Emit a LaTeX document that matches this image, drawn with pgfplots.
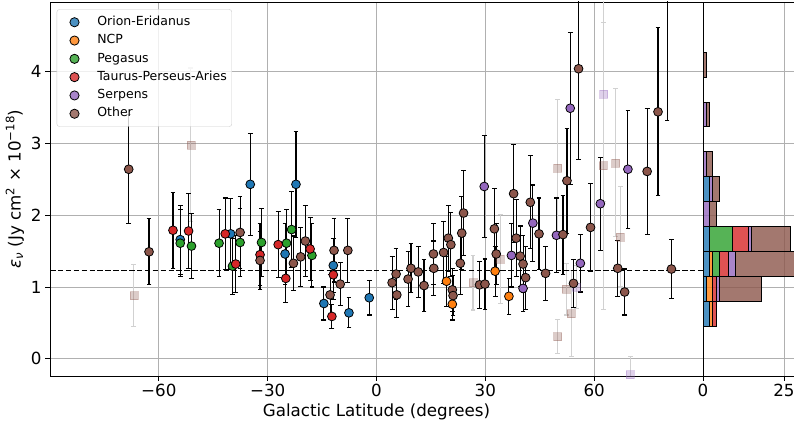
\documentclass[border=0pt]{standalone}
\usepackage{fontspec}
\setmainfont{DejaVu Sans}
\usepackage{pgfplots}
\usepackage{pgfplotstable}
\pgfplotsset{compat=1.18}
\definecolor{cblue}{RGB}{31,119,180}
\definecolor{corange}{RGB}{255,127,14}
\definecolor{cgreen}{RGB}{44,160,44}
\definecolor{cred}{RGB}{214,39,40}
\definecolor{cpurple}{RGB}{148,103,189}
\definecolor{cbrown}{RGB}{140,86,75}
\definecolor{gridgray}{RGB}{176,176,176}
\definecolor{leggray}{RGB}{204,204,204}

\pgfplotstableread{
x y e
-54.1 1.66 0.48
-40.2 1.74 0.49
-34.8 2.43 0.71
-25.2 1.46 0.42
-22.2 2.43 0.74
-14.5 0.77 0.23
-11.9 1.30 0.38
-7.6 0.64 0.21
-2.0 0.85 0.24
}\blue
\pgfplotstableread{
x y e
19.3 1.08 0.35
20.9 0.76 0.22
32.7 1.22 0.35
36.5 0.87 0.25
}\orange
\pgfplotstableread{
x y e
-54.1 1.61 0.47
-51.0 1.57 0.45
-43.4 1.61 0.47
-39.7 1.29 0.39
-37.6 1.62 0.47
-31.7 1.62 0.47
-24.8 1.61 0.47
-23.4 1.80 0.53
-17.8 1.44 0.44
}\green
\pgfplotstableread{
x y e
-56.1 1.79 0.53
-51.8 1.78 0.52
-41.7 1.74 0.50
-38.8 1.32 0.40
-32.1 1.45 0.43
-27.1 1.59 0.46
-25.0 1.12 0.34
-18.3 1.53 0.44
-12.3 0.59 0.17
-11.9 1.17 0.35
}\red
\pgfplotstableread{
x y e
29.7 2.40 0.71
37.2 1.44 0.44
40.4 0.98 0.32
43.1 1.89 0.53
49.6 1.72 0.52
53.4 3.49 1.06
56.2 1.33 0.40
61.7 2.16 0.65
69.3 2.64 0.82
}\purple
\pgfplotstableread{
x y e
-68.3 2.64 0.76
-62.7 1.49 0.46
-37.6 1.76 0.50
-32.1 1.37 0.40
-22.9 1.33 0.38
-20.9 1.42 0.41
-19.6 1.64 0.50
-12.8 0.89 0.28
-11.7 1.51 0.44
-10.0 1.04 0.30
-7.9 1.51 0.45
4.3 1.06 0.37
5.4 1.18 0.36
5.6 0.89 0.31
8.7 1.11 0.38
9.5 1.26 0.34
11.5 1.21 0.36
13.1 1.02 0.36
15.7 1.46 0.43
15.8 1.26 0.38
18.5 1.48 0.43
19.8 1.68 0.46
20.5 1.59 0.45
20.9 0.96 0.30
21.1 0.88 0.28
23.1 1.33 0.44
23.5 1.75 0.51
24.0 2.03 0.59
28.4 1.03 0.33
29.9 1.04 0.35
32.5 1.81 0.56
33.0 1.46 0.42
37.8 2.30 0.68
38.5 1.68 0.54
39.6 1.43 0.42
40.4 1.32 0.40
41.1 1.13 0.44
42.4 2.18 0.65
44.8 1.74 0.50
46.6 1.19 0.38
51.4 1.73 0.55
52.5 2.48 0.73
54.3 1.05 0.33
55.7 4.04 1.27
59.0 1.83 0.61
66.5 1.26 0.39
68.4 0.93 0.32
74.6 2.61 0.88
77.6 3.44 1.17
80.1 5.30 1.98
81.3 1.25 0.41
}\brown
\pgfplotstableread{
x y e
-66.9 0.88 0.43
-51.2 2.98 1.07
26.6 1.06 0.38
34.1 1.39 0.62
49.9 2.66 0.95
49.9 0.31 0.24
52.3 0.97 0.36
53.7 0.63 0.60
62.5 2.69 2.00
65.9 2.73 1.03
67.2 1.70 0.70
}\fadebrown
\pgfplotstableread{
x y e
55.1 1.00 0.30
62.6 3.69 1.50
70.0 -0.22 0.25
}\fadepurple
\pgfplotstableread{
y b o g r p br
0.629 2 1 0 1 0 0
0.976 1 2 0 1 1 13
1.323 2 1 2 3 2 19
1.670 2 0 7 5 1 12
2.016 0 0 0 0 2 2
2.363 2 0 0 0 1 2
2.710 0 0 0 0 1 2
3.403 0 0 0 0 1 1
4.097 0 0 0 0 0 1
}\hist

\begin{document}
\begin{tikzpicture}
\path[use as bounding box] (0,0) rectangle (794bp,424bp);
\pgfplotsset{
  errstyle/.style={error bars/.cd, y dir=both, y explicit,
    error bar style={line width=1.1bp, black},
    error mark=|,
    error mark options={mark size=2.4bp, line width=1.1bp, black}},
  fadeerr/.style={error bars/.cd, y dir=both, y explicit,
    error bar style={line width=1.1bp, black!18},
    error mark=|,
    error mark options={mark size=2.4bp, line width=1.1bp, black!18}},
  dotleg/.style={legend image code/.code={
    \path[draw=none, fill=none] (0bp,-0.5bp) rectangle (35.5bp,0.5bp);
    \draw[##1, mark size=4.6bp] plot coordinates {(14.6bp,0bp)};}},
}
\begin{axis}[
  at={(50bp,48bp)}, anchor=south west, scale only axis,
  width=653bp, height=374bp,
  xmin=-90, xmax=90, ymin=-0.24, ymax=4.97,
  xtick={-60,-30,0,30,60}, xticklabels={−60,−30,0,30,60},
  ytick={0,1,2,3,4}, yticklabels={0,1,2,3,4},
  xtick pos=bottom, ytick pos=left,
  grid=major, major grid style={color=gridgray, line width=0.8bp},
  tick align=outside, major tick length=4.9bp,
  tick style={black, line width=0.8bp},
  axis line style={line width=0.8bp},
  tick label style={font=\fontsize{16.7bp}{20bp}\selectfont},
  label style={font=\fontsize{16.7bp}{20bp}\selectfont},
  xlabel={Galactic Latitude (degrees)},
  ylabel={\textit{ε}\textsubscript{\textit{ν}} (Jy cm\textsuperscript{2} × 10\textsuperscript{−18})},
  legend cell align=left,
  legend style={at={(0,1)}, anchor=north west, xshift=6.7bp, yshift=-7.3bp,
    draw=leggray, rounded corners=2.5bp, fill=white, fill opacity=0.8, text opacity=1,
    font=\fontsize{12.5bp}{15bp}\selectfont,
    inner xsep=3bp, inner ysep=4.5bp,
    nodes={text height=9.5bp, text depth=3bp, inner sep=2bp},
    row sep=1.8bp},
]
\addplot[only marks, mark=square*, mark size=4bp, mark options={fill=cbrown, fill opacity=0.3, draw=cbrown, draw opacity=0.3}, forget plot, fadeerr]
  table[x=x, y=y, y error=e]{\fadebrown};
\addplot[only marks, mark=square*, mark size=4bp, mark options={fill=cpurple, fill opacity=0.3, draw=cpurple, draw opacity=0.3}, forget plot, fadeerr]
  table[x=x, y=y, y error=e]{\fadepurple};
\addplot[dashed, black, line width=1.5bp, dash pattern=on 5.5bp off 2.4bp, forget plot] coordinates {(-90,1.23) (90,1.23)};
\addplot[only marks, mark=*, mark size=4.4bp, mark options={fill=cblue, draw=black, line width=0.8bp}, dotleg, errstyle]
  table[x=x, y=y, y error=e]{\blue};
\addlegendentry{Orion-Eridanus}
\addplot[only marks, mark=*, mark size=4.4bp, mark options={fill=corange, draw=black, line width=0.8bp}, dotleg, errstyle]
  table[x=x, y=y, y error=e]{\orange};
\addlegendentry{NCP}
\addplot[only marks, mark=*, mark size=4.4bp, mark options={fill=cgreen, draw=black, line width=0.8bp}, dotleg, errstyle]
  table[x=x, y=y, y error=e]{\green};
\addlegendentry{Pegasus}
\addplot[only marks, mark=*, mark size=4.4bp, mark options={fill=cred, draw=black, line width=0.8bp}, dotleg, errstyle]
  table[x=x, y=y, y error=e]{\red};
\addlegendentry{Taurus-Perseus-Aries}
\addplot[only marks, mark=*, mark size=4.4bp, mark options={fill=cpurple, draw=black, line width=0.8bp}, dotleg, errstyle]
  table[x=x, y=y, y error=e]{\purple};
\addlegendentry{Serpens}
\addplot[only marks, mark=*, mark size=4.4bp, mark options={fill=cbrown, draw=black, line width=0.8bp}, dotleg, errstyle]
  table[x=x, y=y, y error=e]{\brown};
\addlegendentry{Other}
\end{axis}
\begin{axis}[
  at={(703bp,48bp)}, anchor=south west, scale only axis,
  width=91bp, height=374bp,
  xmin=0, xmax=28.09, ymin=-0.24, ymax=4.97,
  xbar stacked, bar width=0.3467,
  xtick={0,25}, xticklabels={0,25},
  ytick={0,1,2,3,4}, yticklabels={},
  xtick pos=bottom, ytick style={draw=none},
  grid=major, major grid style={color=gridgray, line width=0.8bp},
  tick align=outside, major tick length=4.9bp,
  tick style={black, line width=0.8bp},
  axis line style={line width=0.8bp},
  tick label style={font=\fontsize{16.7bp}{20bp}\selectfont},
]
\addplot[fill=cblue, fill opacity=0.8, draw=black, line width=0.9bp] table[x=b, y=y]{\hist};
\addplot[fill=corange, fill opacity=0.8, draw=black, line width=0.9bp] table[x=o, y=y]{\hist};
\addplot[fill=cgreen, fill opacity=0.8, draw=black, line width=0.9bp] table[x=g, y=y]{\hist};
\addplot[fill=cred, fill opacity=0.8, draw=black, line width=0.9bp] table[x=r, y=y]{\hist};
\addplot[fill=cpurple, fill opacity=0.8, draw=black, line width=0.9bp] table[x=p, y=y]{\hist};
\addplot[fill=cbrown, fill opacity=0.8, draw=black, line width=0.9bp] table[x=br, y=y]{\hist};
\end{axis}
\end{tikzpicture}
\end{document}
